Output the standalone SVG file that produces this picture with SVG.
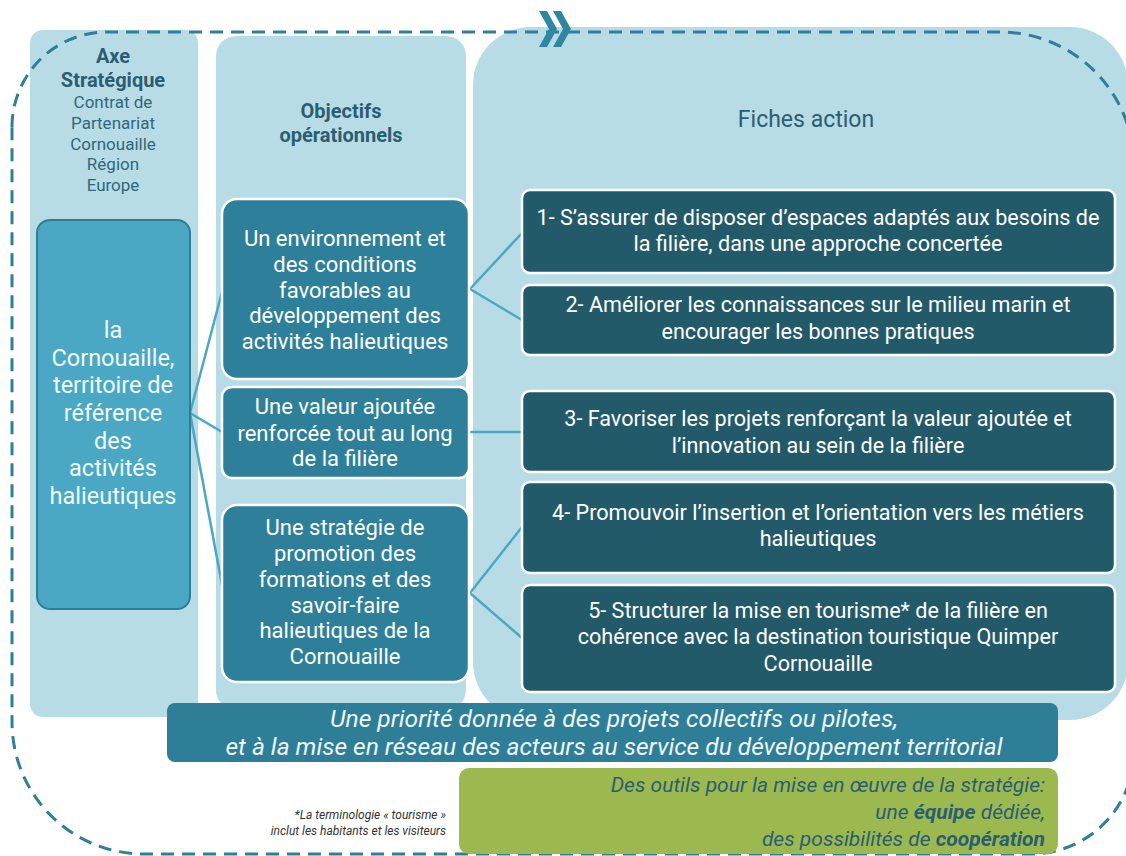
<svg xmlns="http://www.w3.org/2000/svg" width="1126" height="856" viewBox="0 0 1126 856">
<style>
.col{fill:#b8dce6}
.hd{font-family:Roboto,sans-serif;fill:#2a5e72;text-anchor:middle}
.hb{font-weight:bold;font-size:20px}
.hs{font-size:17px;fill:#2f687b}
.left{fill:#4aa8c4;stroke:#2f7e97;stroke-width:2}
.lt{font-family:Roboto,sans-serif;font-size:23.5px;fill:#f2fafc;text-anchor:middle}
.obj{fill:#2e7f99;stroke:#ffffff;stroke-width:2.5}
.ot{font-family:Roboto,sans-serif;font-size:22px;fill:#ffffff;text-anchor:middle}
.act{fill:#235a6a;stroke:#ffffff;stroke-width:2.5}
.at{font-family:Roboto,sans-serif;font-size:21.6px;fill:#ffffff;text-anchor:middle}
.conn{stroke:#4aa8c4;stroke-width:2.5;fill:none}
.bar{fill:#2f7e98}
.bt{font-family:Roboto,sans-serif;font-style:italic;font-size:23.5px;fill:#eef7fa;text-anchor:middle}
.grn{fill:#9cb94f}
.gt{font-family:Roboto,sans-serif;font-style:italic;font-size:21px;fill:#2a5e72;text-anchor:end}
.fn{font-family:Roboto,sans-serif;font-style:italic;font-size:12px;fill:#333333;text-anchor:end}
.dash{fill:none;stroke:#2e7f99;stroke-width:3;stroke-dasharray:13 8}
</style>
<rect width="1126" height="856" fill="#ffffff"/>
<g id="columns">
<rect class="col" x="30" y="30" width="168" height="687" rx="13"/>
<rect class="col" x="216" y="36" width="250" height="674" rx="20"/>
<rect class="col" x="473" y="27" width="655" height="693" rx="58"/>
</g>
<g id="outline">
<path class="dash" d="M 12,127 A 95 95 0 0 1 107,32 L 1000,32 A 134 134 0 0 1 1134,166 L 1134,751 A 103 103 0 0 1 1031,854 L 144,854 A 132 132 0 0 1 12,722 Z"/>
<polygon points="539,11 547,11 557,29 547,47 539,47 549,29" fill="#2e86a0"/>
<polygon points="553,11 561,11 571,29 561,47 553,47 563,29" fill="#2e86a0"/>
</g>
<g id="headers">
<text class="hd hb" x="113" y="63">Axe</text>
<text class="hd hb" x="113" y="87">Stratégique</text>
<text class="hd hs" x="113" y="108">Contrat de</text>
<text class="hd hs" x="113" y="129">Partenariat</text>
<text class="hd hs" x="113" y="150">Cornouaille</text>
<text class="hd hs" x="113" y="170">Région</text>
<text class="hd hs" x="113" y="191">Europe</text>
<text class="hd hb" x="341" y="118">Objectifs</text>
<text class="hd hb" x="341" y="142">opérationnels</text>
<text class="hd" x="806" y="127" font-size="23" font-family="Open Sans, sans-serif">Fiches action</text>
</g>
<g id="connectors">
<line class="conn" x1="190" y1="413" x2="222" y2="292"/>
<line class="conn" x1="190" y1="413" x2="222" y2="432"/>
<line class="conn" x1="190" y1="413" x2="222" y2="585"/>
<line class="conn" x1="470" y1="289" x2="522" y2="233"/>
<line class="conn" x1="470" y1="289" x2="522" y2="320"/>
<line class="conn" x1="469" y1="432" x2="522" y2="432"/>
<line class="conn" x1="470" y1="593" x2="522" y2="527"/>
<line class="conn" x1="470" y1="593" x2="522" y2="638"/>
</g>
<g id="node-territoire">
<rect class="left" x="37" y="220" width="153" height="389" rx="13"/>
<text class="lt" x="113" y="338">la</text>
<text class="lt" x="113" y="366">Cornouaille,</text>
<text class="lt" x="113" y="393">territoire de</text>
<text class="lt" x="113" y="421">référence</text>
<text class="lt" x="113" y="449">des</text>
<text class="lt" x="113" y="476">activités</text>
<text class="lt" x="113" y="504">halieutiques</text>
</g>
<g id="obj-1">
<rect class="obj" x="222" y="199" width="247" height="180" rx="15"/>
<text class="ot" x="345" y="246">Un environnement et</text>
<text class="ot" x="345" y="272">des conditions</text>
<text class="ot" x="345" y="298">favorables au</text>
<text class="ot" x="345" y="323">développement des</text>
<text class="ot" x="345" y="349">activités halieutiques</text>
</g>
<g id="obj-2">
<rect class="obj" x="222" y="387" width="247" height="91" rx="10"/>
<text class="ot" x="345" y="414">Une valeur ajoutée</text>
<text class="ot" x="345" y="441">renforcée tout au long</text>
<text class="ot" x="345" y="466">de la filière</text>
</g>
<g id="obj-3">
<rect class="obj" x="222" y="505" width="247" height="177" rx="15"/>
<text class="ot" x="345" y="535">Une stratégie de</text>
<text class="ot" x="345" y="561">promotion des</text>
<text class="ot" x="345" y="587">formations et des</text>
<text class="ot" x="345" y="613">savoir-faire</text>
<text class="ot" x="345" y="638">halieutiques de la</text>
<text class="ot" x="345" y="664">Cornouaille</text>
</g>
<g id="action-1">
<rect class="act" x="522" y="190" width="593" height="83" rx="8"/>
<text class="at" x="818" y="225">1- S’assurer de disposer d’espaces adaptés aux besoins de</text>
<text class="at" x="818" y="251">la filière, dans une approche concertée</text>
</g>
<g id="action-2">
<rect class="act" x="522" y="285" width="593" height="70" rx="8"/>
<text class="at" x="818" y="312">2- Améliorer les connaissances sur le milieu marin et</text>
<text class="at" x="818" y="339">encourager les bonnes pratiques</text>
</g>
<g id="action-3">
<rect class="act" x="522" y="391" width="593" height="81" rx="8"/>
<text class="at" x="818" y="426">3- Favoriser les projets renforçant la valeur ajoutée et</text>
<text class="at" x="818" y="453">l’innovation au sein de la filière</text>
</g>
<g id="action-4">
<rect class="act" x="522" y="482" width="593" height="91" rx="8"/>
<text class="at" x="818" y="520">4- Promouvoir l’insertion et l’orientation vers les métiers</text>
<text class="at" x="818" y="546">halieutiques</text>
</g>
<g id="action-5">
<rect class="act" x="522" y="585" width="593" height="107" rx="8"/>
<text class="at" x="818" y="618">5- Structurer la mise en tourisme* de la filière en</text>
<text class="at" x="818" y="644">cohérence avec la destination touristique Quimper</text>
<text class="at" x="818" y="671">Cornouaille</text>
</g>
<g id="priority-bar">
<rect class="bar" x="167" y="703" width="891" height="59" rx="8"/>
<text class="bt" x="614" y="727" textLength="568" lengthAdjust="spacingAndGlyphs">Une priorité donnée à des projets collectifs ou pilotes,</text>
<text class="bt" x="614" y="755" textLength="777" lengthAdjust="spacingAndGlyphs">et à la mise en réseau des acteurs au service du développement territorial</text>
</g>
<g id="tools-box">
<rect class="grn" x="459" y="768" width="599" height="86" rx="10"/>
<text class="gt" x="1045" y="792">Des outils pour la mise en œuvre de la stratégie:</text>
<text class="gt" x="1045" y="819">une <tspan font-weight="bold">équipe</tspan> dédiée,</text>
<text class="gt" x="1045" y="846">des possibilités de <tspan font-weight="bold">coopération</tspan></text>
</g>
<g id="footnote">
<text class="fn" x="446" y="819">*La terminologie « tourisme »</text>
<text class="fn" x="446" y="835">inclut les habitants et les visiteurs</text>
</g>
</svg>
